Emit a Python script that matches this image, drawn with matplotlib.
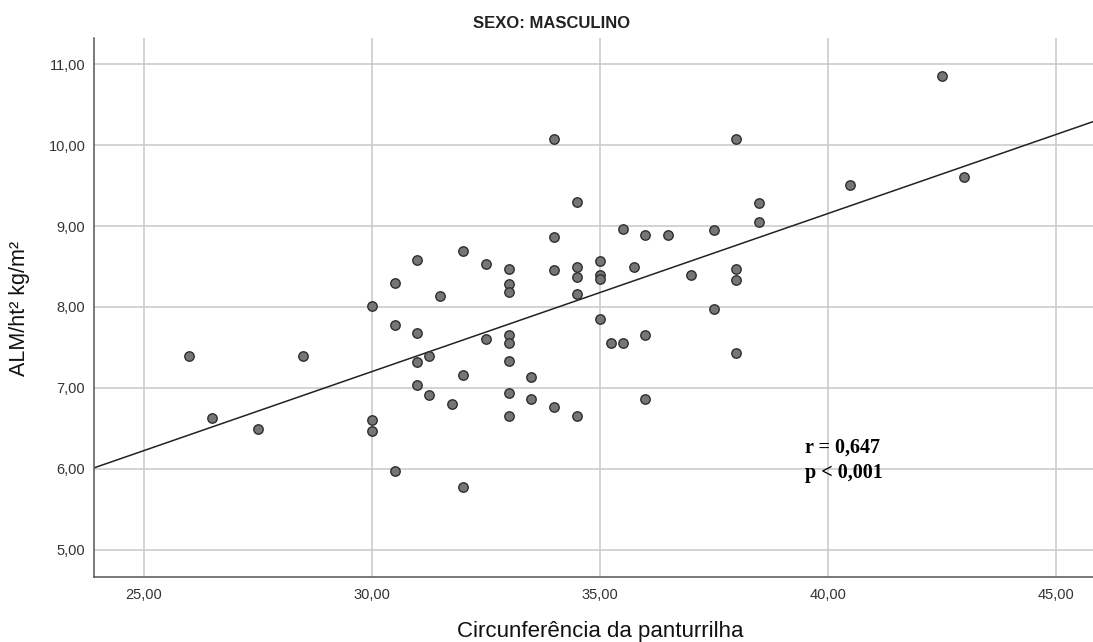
import numpy as np
import matplotlib
matplotlib.use("Agg")
from matplotlib import pyplot as plt
from matplotlib.ticker import FuncFormatter

# calf circumference (cm) vs ALM/ht2 (kg/m2), male subgroup
calf = [26.0, 26.5, 27.5, 28.5,
        30.0, 30.0, 30.0, 30.5, 30.5, 30.5,
        31.0, 31.0, 31.0, 31.0, 31.25, 31.25, 31.5, 31.75,
        32.0, 32.0, 32.0, 32.5, 32.5,
        33.0, 33.0, 33.0, 33.0, 33.0, 33.0, 33.0, 33.0, 33.5, 33.5,
        34.0, 34.0, 34.0, 34.0, 34.5, 34.5, 34.5, 34.5, 34.5,
        35.0, 35.0, 35.0, 35.0, 35.25, 35.5, 35.5, 35.75,
        36.0, 36.0, 36.0, 36.5, 37.0, 37.5, 37.5,
        38.0, 38.0, 38.0, 38.0, 38.5, 38.5, 40.5, 42.5, 43.0]
alm = [7.39, 6.63, 6.49, 7.40,
       8.01, 6.60, 6.47, 8.30, 7.78, 5.97,
       8.58, 7.68, 7.32, 7.04, 7.40, 6.91, 8.14, 6.80,
       8.69, 7.16, 5.78, 8.53, 7.61,
       8.47, 8.29, 8.19, 7.65, 7.55, 7.33, 6.94, 6.66, 7.14, 6.86,
       10.07, 8.86, 8.46, 6.77, 9.30, 8.49, 8.37, 8.16, 6.66,
       8.57, 8.40, 8.35, 7.85, 7.55, 8.96, 7.55, 8.49,
       8.89, 7.65, 6.86, 8.89, 8.40, 8.95, 7.97,
       10.07, 8.47, 8.33, 7.43, 9.29, 9.05, 9.51, 10.85, 9.61]

xticks = [25, 30, 35, 40, 45]
yticks = [5, 6, 7, 8, 9, 10, 11]
stats_text = ["r = 0,647", "p < 0,001"]

x = np.array(calf)
y = np.array(alm)
slope, intercept = np.polyfit(x, y, 1)

fig = plt.figure(figsize=(10.93, 6.42), dpi=100)
ax = fig.add_axes([0.0857, 0.1008, 0.9143, 0.8405])
ax.set_xlim(23.9, 45.82)
ax.set_ylim(4.663, 11.325)

ax.set_xticks(xticks)
ax.set_yticks(yticks)
comma = FuncFormatter(lambda v, p: f"{v:.2f}".replace(".", ","))
ax.xaxis.set_major_formatter(comma)
ax.yaxis.set_major_formatter(comma)
ax.tick_params(length=0, labelsize=10.5, labelcolor="#333333",
               labelfontfamily="Liberation Sans")
ax.tick_params(axis="y", pad=6)
ax.tick_params(axis="x", pad=8)

ax.grid(True, color="#c8c8c8", linewidth=1.1)
ax.set_axisbelow(True)
for s in ["top", "right"]:
    ax.spines[s].set_visible(False)
for s in ["left", "bottom"]:
    ax.spines[s].set_color("#555555")
    ax.spines[s].set_linewidth(1.1)

xl = np.array(ax.get_xlim())
ax.plot(xl, intercept + slope * xl, color="#222222", linewidth=1.1, zorder=2)
ax.scatter(x, y, s=46, facecolor="#767676", edgecolor="#2e2e2e",
           linewidth=1.0, zorder=3)

ax.text(39.5, 6.2, stats_text[0], fontfamily="Liberation Serif",
        fontweight="bold", fontsize=14.5, va="baseline")
ax.text(39.5, 5.889, stats_text[1], fontfamily="Liberation Serif",
        fontweight="bold", fontsize=14.5, va="baseline")

fig.text(552 / 1093, 1 - 24 / 642, "SEXO: MASCULINO", ha="center",
         va="center", fontsize=12, fontweight="bold",
         fontfamily="Liberation Sans", color="#222222")
fig.text(600 / 1093, 1 - 632 / 642, "Circunferência da panturrilha",
         ha="center", va="center", fontsize=16,
         fontfamily="Liberation Sans", color="#111111")
fig.text(20 / 1093, 1 - 308 / 642, "ALM/ht² kg/m²", ha="center",
         va="center", rotation=90, fontsize=15.5,
         fontfamily="Liberation Sans", color="#111111")

fig.savefig("out.png", dpi=100)
